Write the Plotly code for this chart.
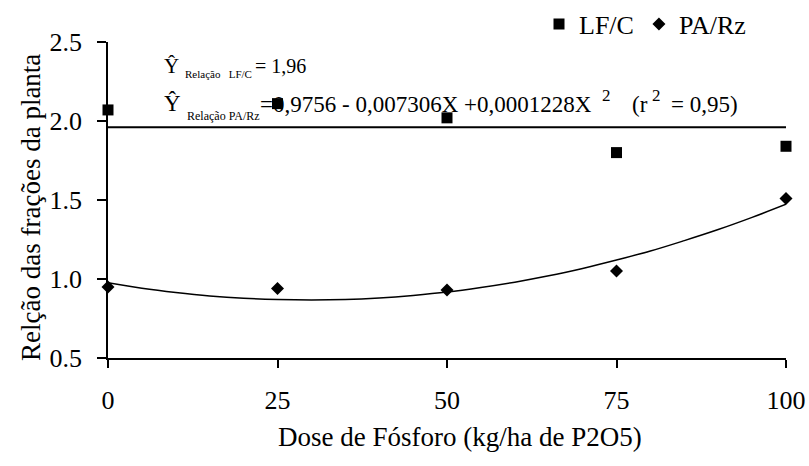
import plotly.graph_objects as go

# ---- data ----
dose = [0, 25, 50, 75, 100]
lf_c = [2.07, 2.11, 2.02, 1.80, 1.84]
pa_rz = [0.95, 0.94, 0.93, 1.05, 1.51]

lf_c_mean = 1.96
fit_x = [0, 5, 10, 15, 20, 25, 30, 35, 40, 45, 50, 55, 60, 65, 70, 75, 80, 85, 90, 95, 100]
fit_y = [0.976, 0.942, 0.915, 0.893, 0.878, 0.870, 0.867, 0.870, 0.880, 0.896, 0.917,
         0.946, 0.980, 1.020, 1.067, 1.120, 1.177, 1.243, 1.313, 1.390, 1.473]

x_ticks = [0, 25, 50, 75, 100]
y_ticks = [0.5, 1.0, 1.5, 2.0, 2.5]
y_tick_text = ["0.5", "1.0", "1.5", "2.0", "2.5"]

x_title = "Dose de Fósforo (kg/ha de P2O5)"
y_title = "Relção das frações da planta"

FONT = "Liberation Serif"

# plot area in pixels
L, R, T, B = 108, 786, 42, 358
W, H = 809, 466


def px(x):
    return (x - L) / (R - L)


def py(y):
    return (B - y) / (B - T)


fig = go.Figure()

fig.add_trace(go.Scatter(
    x=[dose[0], dose[-1]], y=[lf_c_mean, lf_c_mean], mode="lines",
    line=dict(color="black", width=2), showlegend=False, hoverinfo="skip"))
fig.add_trace(go.Scatter(
    x=fit_x, y=fit_y, mode="lines", line=dict(color="black", width=1.5, shape="spline"),
    showlegend=False, hoverinfo="skip"))
fig.add_trace(go.Scatter(
    x=dose, y=lf_c, mode="markers", name="LF/C",
    marker=dict(symbol="square", size=11, color="black"), cliponaxis=False))
fig.add_trace(go.Scatter(
    x=dose, y=pa_rz, mode="markers", name="PA/Rz",
    marker=dict(symbol="diamond", size=10, color="black"), cliponaxis=False))

ann = []


def txt(s, x, y, size, xanchor="left", angle=0):
    ann.append(dict(text=s, x=px(x), y=py(y), xref="paper", yref="paper",
                    xanchor=xanchor, yanchor="middle", showarrow=False, textangle=angle,
                    font=dict(family=FONT, size=size, color="black")))


# regression equations
txt("Ŷ", 162, 66, 21)
txt("Relação&nbsp;&nbsp;&nbsp;LF/C", 183, 74, 11)
txt("= 1,96", 253, 66, 20)
txt("Ŷ", 162, 103, 23)
txt("Relação PA/Rz", 185, 116, 12)
txt("=0,9756 - 0,007306X +0,0001228X", 258, 105, 23)
txt("2", 600, 95, 17)
txt("(r", 630, 105, 23)
txt("2", 650, 95, 17)
txt("= 0,95)", 669, 105, 23)

# axis titles
txt(x_title, 460, 437, 27, xanchor="center")
txt(y_title, 31, 208, 27, xanchor="center", angle=-90)

fig.update_layout(
    width=W, height=H,
    margin=dict(l=L, r=W - R, t=T, b=H - B, autoexpand=False),
    paper_bgcolor="white", plot_bgcolor="white",
    font=dict(family=FONT, color="black"),
    annotations=ann,
    legend=dict(orientation="h", x=px(539), y=py(24), xanchor="left", yanchor="middle",
                font=dict(family=FONT, size=26, color="black"), bgcolor="rgba(0,0,0,0)",
                itemwidth=30, tracegroupgap=0),
    xaxis=dict(range=[0, 100], tickvals=x_ticks, ticktext=[str(v) for v in x_ticks],
               showline=True, linecolor="black", linewidth=1.5, mirror=False,
               ticks="outside", ticklen=8, tickwidth=1.5, tickcolor="black",
               showgrid=False, zeroline=False, ticklabelstandoff=10,
               tickfont=dict(family=FONT, size=26, color="black")),
    yaxis=dict(range=[0.5, 2.5], tickvals=y_ticks, ticktext=y_tick_text,
               showline=True, linecolor="black", linewidth=1.5,
               ticks="outside", ticklen=9, tickwidth=1.5, tickcolor="black",
               showgrid=False, zeroline=False, ticklabelstandoff=10,
               tickfont=dict(family=FONT, size=26, color="black")),
)

fig.write_html("out.html")
